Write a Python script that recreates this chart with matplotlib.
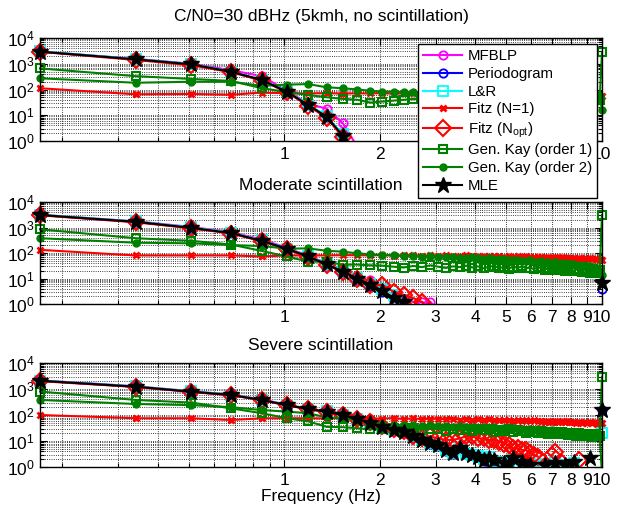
import matplotlib
matplotlib.use("Agg")
import matplotlib.pyplot as plt
from matplotlib.transforms import Bbox, TransformedBbox
from matplotlib.ticker import FixedLocator, FixedFormatter, NullFormatter

plt.rcParams['font.family'] = ['Liberation Sans', 'DejaVu Sans']
plt.rcParams['mathtext.fontset'] = 'custom'
plt.rcParams['mathtext.rm'] = 'Liberation Sans'
plt.rcParams['mathtext.it'] = 'Liberation Sans:italic'
plt.rcParams['mathtext.default'] = 'regular'

nan = float('nan')

# Doppler frequency grid (Hz)
freq = [0.17, 0.34, 0.51, 0.68, 0.85, 1.02, 1.19, 1.36, 1.53, 1.70,
        1.87, 2.04, 2.21, 2.38, 2.55, 2.72, 2.89, 3.06, 3.23, 3.40,
        3.57, 3.74, 3.91, 4.08, 4.25, 4.42, 4.59, 4.76, 4.93, 5.10,
        5.27, 5.44, 5.61, 5.78, 5.95, 6.12, 6.29, 6.46, 6.63, 6.80,
        6.97, 7.14, 7.31, 7.48, 7.65, 7.82, 7.99, 8.16, 8.33, 8.50,
        8.67, 8.84, 9.01, 9.18, 9.35, 9.52, 9.69, 9.86, 10.03]

titles = ['C/N0=30 dBHz (5kmh, no scintillation)',
          'Moderate scintillation',
          'Severe scintillation']
labels = ['MFBLP', 'Periodogram', 'L&R', 'Fitz (N=1)', r'Fitz (N$_{opt}$)',
          'Gen. Kay (order 1)', 'Gen. Kay (order 2)', 'MLE']
xtick_labels = ['1', '2', '3', '4', '5', '6', '7', '8', '9', '10']

# ---- no scintillation ----
mfblp_1 = [3000, 1550, 1000, 560, 330, 90, 28, 18, 4.9, 0.6,
           nan, nan, nan, nan, nan, nan, nan, nan, nan, nan,
           nan, nan, nan, nan, nan, nan, nan, nan, nan, nan,
           nan, nan, nan, nan, nan, nan, nan, nan, nan, nan,
           nan, nan, nan, nan, nan, nan, nan, nan, nan, nan,
           nan, nan, nan, nan, nan, nan, nan, nan, nan]
perio_1 = [2950, 1500, 940, 480, 230, 80, 24, 8.5, 1.5, 0.3,
           nan, nan, nan, nan, nan, nan, nan, nan, nan, nan,
           nan, nan, nan, nan, nan, nan, nan, nan, nan, nan,
           nan, nan, nan, nan, nan, nan, nan, nan, nan, nan,
           nan, nan, nan, nan, nan, nan, nan, nan, nan, nan,
           nan, nan, nan, nan, nan, nan, nan, nan, nan]
lr_1 = [3050, 1520, 970, 500, 240, 84, 26, 9.5, 1.8, 0.4,
        nan, nan, nan, nan, nan, nan, nan, nan, nan, nan,
        nan, nan, nan, nan, nan, nan, nan, nan, nan, nan,
        nan, nan, nan, nan, nan, nan, nan, nan, nan, nan,
        nan, nan, nan, nan, nan, nan, nan, nan, nan, nan,
        nan, nan, nan, nan, nan, nan, nan, nan, nan]
fitz1_1 = [112, 65, 67, 62, 76, 71, 70, 72, 69, 71,
           70, 72, 68, 71, 73, 69, 70, 72, 67, 70,
           71, 68, 72, 69, 70, 66, 71, 68, 70, 67,
           69, 71, 66, 68, 70, 65, 69, 67, 64, 68,
           66, 63, 67, 65, 62, 66, 64, 61, 65, 60,
           63, 59, 62, 58, 61, 57, 60, 58, 55]
fitzopt_1 = [2900, 1400, 870, 470, 225, 78, 23, 8, 1.4, 0.3,
             nan, nan, nan, nan, nan, nan, nan, nan, nan, nan,
             nan, nan, nan, nan, nan, nan, nan, nan, nan, nan,
             nan, nan, nan, nan, nan, nan, nan, nan, nan, nan,
             nan, nan, nan, nan, nan, nan, nan, nan, nan, nan,
             nan, nan, nan, nan, nan, nan, nan, nan, nan]
kay1_1 = [660, 330, 257, 215, 112, 80, 61, 50, 43, 40,
          31, 34, 37, 40, 43, 41, 39, 42, 40, 38,
          41, 39, 43, 40, 38, 41, 39, 42, 40, 37,
          40, 42, 38, 41, 39, 37, 40, 42, 38, 40,
          39, 41, 37, 40, 38, 42, 39, 41, 38, 40,
          37, 41, 39, 42, 38, 40, 39, 40, 2800]
kay2_1 = [272, 183, 200, 200, 138, 155, 162, 122, 112, 100,
          89, 83, 82, 80, 80, 78, 81, 77, 79, 76,
          78, 75, 77, 74, 76, 73, 75, 72, 74, 71,
          73, 70, 72, 69, 71, 68, 70, 67, 69, 66,
          68, 65, 67, 64, 66, 63, 65, 62, 64, 61,
          63, 60, 62, 59, 61, 58, 60, 57, 16]
mle_1 = [2950, 1490, 950, 490, 234, 82, 25, 8.8, 1.6, 0.3,
         nan, nan, nan, nan, nan, nan, nan, nan, nan, nan,
         nan, nan, nan, nan, nan, nan, nan, nan, nan, nan,
         nan, nan, nan, nan, nan, nan, nan, nan, nan, nan,
         nan, nan, nan, nan, nan, nan, nan, nan, nan, nan,
         nan, nan, nan, nan, nan, nan, nan, nan, nan]

# ---- moderate scintillation ----
mfblp_2 = [3150, 1750, 1050, 650, 340, 160, 78, 40, 20, 11,
           9, 4, 2.2, 1.5, 1.2, 1.15, 1.2, 0.5, nan, nan,
           nan, nan, nan, nan, nan, nan, nan, nan, nan, nan,
           nan, nan, nan, nan, nan, nan, nan, nan, nan, nan,
           nan, nan, nan, nan, nan, nan, nan, nan, nan, nan,
           nan, nan, nan, nan, nan, nan, nan, nan, nan]
perio_2 = [3080, 1660, 960, 600, 295, 143, 71, 35, 18, 9.5,
           5.2, 3.0, 1.4, 1.1, 0.4, nan, nan, nan, nan, nan,
           nan, nan, nan, nan, nan, nan, nan, nan, nan, nan,
           nan, nan, nan, nan, nan, nan, nan, nan, nan, nan,
           nan, nan, nan, nan, nan, nan, nan, nan, nan, nan,
           nan, nan, nan, nan, nan, nan, nan, nan, 4]
lr_2 = [3200, 1720, 1010, 630, 310, 150, 75, 38, 19.5, 10.5,
        6, 4, 2.2, 1.5, 0.6, nan, nan, nan, nan, nan,
        nan, nan, nan, nan, nan, nan, nan, nan, nan, nan,
        nan, nan, nan, nan, nan, nan, nan, nan, nan, nan,
        nan, nan, nan, nan, nan, nan, nan, nan, nan, nan,
        nan, nan, nan, nan, nan, nan, nan, nan, nan]
fitz1_2 = [133, 80, 80, 80, 73, 80, 80, 80, 82, 82,
           80, 83, 79, 81, 84, 78, 80, 77, 82, 79,
           76, 80, 75, 78, 74, 79, 73, 76, 72, 77,
           71, 74, 70, 73, 68, 72, 67, 71, 66, 70,
           65, 69, 64, 67, 62, 66, 61, 65, 60, 63,
           59, 62, 58, 61, 57, 60, 56, 58, 55]
fitzopt_2 = [3000, 1600, 930, 580, 290, 140, 70, 35, 18, 9.6,
             5.6, 5.6, 3.0, 2.3, 1.7, 1.2, 0.5, nan, nan, nan,
             nan, nan, nan, nan, nan, nan, nan, nan, nan, nan,
             nan, nan, nan, nan, nan, nan, nan, nan, nan, nan,
             nan, nan, nan, nan, nan, nan, nan, nan, nan, nan,
             nan, nan, nan, nan, nan, nan, nan, nan, nan]
kay1_2 = [850, 380, 300, 215, 120, 73, 46, 45, 35, 35,
          33, 32, 29, 27, 31, 28, 33, 29, 26, 30,
          28, 32, 27, 30, 25, 29, 31, 26, 28, 24,
          29, 26, 30, 25, 27, 23, 28, 25, 22, 27,
          24, 21, 26, 23, 20, 25, 22, 19, 24, 21,
          18, 23, 20, 17, 22, 19, 16, 21, 3100]
kay2_2 = [380, 253, 240, 205, 187, 148, 152, 122, 113, 97,
          89, 84, 80, 76, 78, 72, 75, 70, 68, 71,
          66, 64, 67, 62, 60, 63, 58, 56, 59, 54,
          52, 55, 50, 48, 51, 46, 44, 47, 42, 45,
          40, 43, 38, 41, 36, 39, 34, 37, 32, 35,
          30, 33, 28, 31, 26, 29, 24, 20, 14]
mle_2 = [3100, 1680, 970, 610, 300, 146, 73, 36, 18.6, 10,
         5.6, 3.3, 1.7, 1.23, 0.5, nan, nan, nan, nan, nan,
         nan, nan, nan, nan, nan, nan, nan, nan, nan, nan,
         nan, nan, nan, nan, nan, nan, nan, nan, nan, nan,
         nan, nan, nan, nan, nan, nan, nan, nan, nan, nan,
         nan, nan, nan, nan, nan, nan, nan, nan, 6.5]

# ---- severe scintillation ----
mfblp_3 = [2150, 1280, 820, 610, 395, 250, 175, 140, 104, 72,
           52, 37, 27, 24, 16, 11.5, 8.5, 7.3, 4.7, 3.6,
           5.4, 3.6, 3.0, 2.6, 1.9, 1.4, nan, nan, nan, nan,
           nan, nan, nan, nan, nan, nan, nan, nan, nan, nan,
           nan, nan, nan, nan, nan, nan, nan, nan, nan, nan,
           nan, nan, nan, nan, nan, nan, nan, nan, nan]
perio_3 = [2060, 1220, 780, 585, 375, 238, 168, 133, 99, 67,
           49, 34, 25, 22, 14.5, 10.5, 7.8, 6.7, 4.3, 3.3,
           5.0, 3.4, 2.9, 2.4, 1.7, 2.0, nan, 1.4, nan, nan,
           nan, nan, nan, nan, nan, nan, nan, nan, nan, nan,
           nan, nan, nan, nan, nan, nan, nan, nan, nan, nan,
           nan, nan, nan, nan, nan, nan, nan, nan, 150]
lr_3 = [2120, 1260, 810, 605, 390, 245, 174, 138, 102, 70,
        51, 36, 27, 24, 15.5, 11.3, 8.4, 7.2, 4.6, 3.6,
        5.0, 3.2, 3.0, 2.7, 2.0, 2.4, 1.5, 1.3, 1.6, 1.2,
        2.0, 1.3, 1.8, 1.1, 1.4, 1.2, 1.1, nan, 1.3, 1.2,
        1.1, 1.5, 1.2, nan, nan, nan, nan, 1.4, nan, nan,
        nan, nan, nan, nan, nan, nan, nan, nan, 20]
fitz1_3 = [100, 75, 75, 64, 75, 75, 75, 74, 76, 73,
           75, 72, 77, 70, 74, 69, 73, 71, 68, 72,
           67, 71, 65, 70, 64, 68, 63, 67, 62, 66,
           61, 65, 60, 63, 58, 62, 57, 61, 56, 60,
           55, 59, 54, 58, 53, 57, 52, 56, 51, 55,
           50, 54, 49, 53, 48, 52, 47, 51, 50]
fitzopt_3 = [2000, 1200, 770, 570, 370, 235, 168, 133, 100, 70,
             52, 37, 28, 24, 15, 12.6, 15, 12.6, 11, 11,
             12.6, 15, 15, 12.6, 12.6, 11, 11, 9.5, 8, 7,
             5.2, 5.2, 4.5, 4.5, 3.5, 2.9, 2.5, nan, nan, nan,
             2.9, 3.9, nan, 1.4, nan, nan, nan, nan, nan, 1.9,
             nan, nan, nan, nan, nan, nan, nan, nan, nan]
kay1_3 = [800, 380, 300, 180, 117, 75, 57, 35, 34, 31,
          28, 30, 29, 27, 31, 26, 30, 28, 25, 29,
          27, 30, 24, 28, 26, 29, 23, 27, 25, 28,
          22, 26, 24, 21, 25, 23, 20, 24, 22, 19,
          23, 21, 18, 22, 20, 17, 21, 19, 16, 20,
          18, 15, 19, 17, 14, 18, 16, 15, 2970]
kay2_3 = [380, 265, 240, 200, 155, 135, 117, 81, 75, 64,
          50, 45, 42, 40, 43, 38, 41, 37, 39, 35,
          38, 34, 36, 33, 35, 31, 34, 30, 32, 29,
          31, 28, 30, 27, 29, 26, 28, 25, 27, 24,
          26, 23, 25, 22, 24, 21, 23, 20, 22, 19,
          21, 18, 20, 17, 19, 16, 18, 17, 0.5]
mle_3 = [2080, 1230, 790, 590, 380, 240, 170, 135, 100, 68,
         50, 35, 26, 23, 15, 11, 8.1, 7.0, 4.5, 3.4,
         5.2, 3.5, 2.9, 2.5, 1.8, 2.2, 1.8, nan, 1.4, 1.3,
         2.2, nan, 1.6, nan, 1.2, nan, nan, nan, 1.2, nan,
         nan, 1.4, nan, nan, 1.2, nan, nan, 1.6, nan, nan,
         nan, nan, nan, 2.2, nan, nan, nan, nan, 160]

panels = [
    [mfblp_1, perio_1, lr_1, fitz1_1, fitzopt_1, kay1_1, kay2_1, mle_1],
    [mfblp_2, perio_2, lr_2, fitz1_2, fitzopt_2, kay1_2, kay2_2, mle_2],
    [mfblp_3, perio_3, lr_3, fitz1_3, fitzopt_3, kay1_3, kay2_3, mle_3],
]

green = '#008000'
styles = [
    dict(color='#ff00ff', marker='o', mfc='none', ms=6, mew=1.3),
    dict(color='#0000ff', marker='o', mfc='none', ms=6, mew=1.3),
    dict(color='#00ffff', marker='s', mfc='none', ms=7, mew=1.3),
    dict(color='#ff0000', marker='x', ms=5, mew=2.0),
    dict(color='#ff0000', marker='D', mfc='none', ms=8, mew=1.5),
    dict(color=green, marker='s', mfc='none', ms=6, mew=1.5),
    dict(color=green, marker='o', mfc=green, ms=5, mew=1.0),
    dict(color='k', marker='*', mfc='k', ms=12, mew=1.0),
]

W, H = 623, 508
fig = plt.figure(figsize=(W / 100, H / 100), dpi=100)
rects = [(40, 38, 602, 141), (40, 202, 602, 304), (40, 363, 602, 467)]
axes = []
for (x0, y0, x1, y1) in rects:
    axes.append(fig.add_axes([x0 / W, 1 - y1 / H, (x1 - x0) / W, (y1 - y0) / H]))

yticks = [1, 10, 100, 1000, 10000]
ytick_labels = [r'$10^{0}$', r'$10^{1}$', r'$10^{2}$', r'$10^{3}$', r'$10^{4}$']
xminor = [0.2, 0.3, 0.4, 0.5, 0.6, 0.7, 0.8, 0.9]
yminor = [m * d for d in (1, 10, 100, 1000) for m in range(2, 10)]

for i, (ax, title, series) in enumerate(zip(axes, titles, panels)):
    pos = ax.get_position()
    dx = 10 / W
    clip = TransformedBbox(Bbox([[pos.x0 - dx, pos.y0], [pos.x1 + dx, pos.y1 + 6 / H]]),
                           fig.transFigure)
    for lab, st, y in zip(labels, styles, series):
        ln, = ax.plot(freq, y, label=lab, lw=1.5, **st)
        ln.set_clip_box(clip)
    ax.set_xscale('log')
    ax.set_yscale('log')
    ax.set_xlim(freq[0], freq[-1])
    ax.set_ylim(1, 10000)
    ax.xaxis.set_major_locator(FixedLocator(list(range(1, 11))))
    ax.xaxis.set_major_formatter(FixedFormatter(xtick_labels))
    ax.xaxis.set_minor_locator(FixedLocator(xminor))
    ax.xaxis.set_minor_formatter(NullFormatter())
    ax.yaxis.set_major_locator(FixedLocator(yticks))
    ax.yaxis.set_major_formatter(FixedFormatter(ytick_labels))
    ax.yaxis.set_minor_locator(FixedLocator(yminor))
    ax.yaxis.set_minor_formatter(NullFormatter())
    ax.grid(True, which='both', color='k', linestyle=':', linewidth=0.6)
    ax.tick_params(which='both', direction='in', top=True, right=True,
                   labelsize=12.5, width=0.8)
    ax.tick_params(which='major', length=5, pad=4)
    ax.tick_params(which='minor', length=3)
    for sp in ax.spines.values():
        sp.set_linewidth(1.0)
    ax.set_title(title, fontsize=12.5, pad=12 if i == 0 else 9)

axes[2].set_xlabel('Frequency (Hz)', fontsize=12.5, labelpad=1)

handles, labs = axes[0].get_legend_handles_labels()
leg = fig.legend(handles, labs, loc='upper left',
                 bbox_to_anchor=(418 / W, 1 - 44 / H), borderaxespad=0,
                 fontsize=10.8, frameon=True, fancybox=False, framealpha=1,
                 edgecolor='k', handlelength=2.6, handletextpad=0.35,
                 labelspacing=0.25, borderpad=0.35)
leg.get_frame().set_linewidth(1.0)

fig.savefig('out.png', dpi=100)
